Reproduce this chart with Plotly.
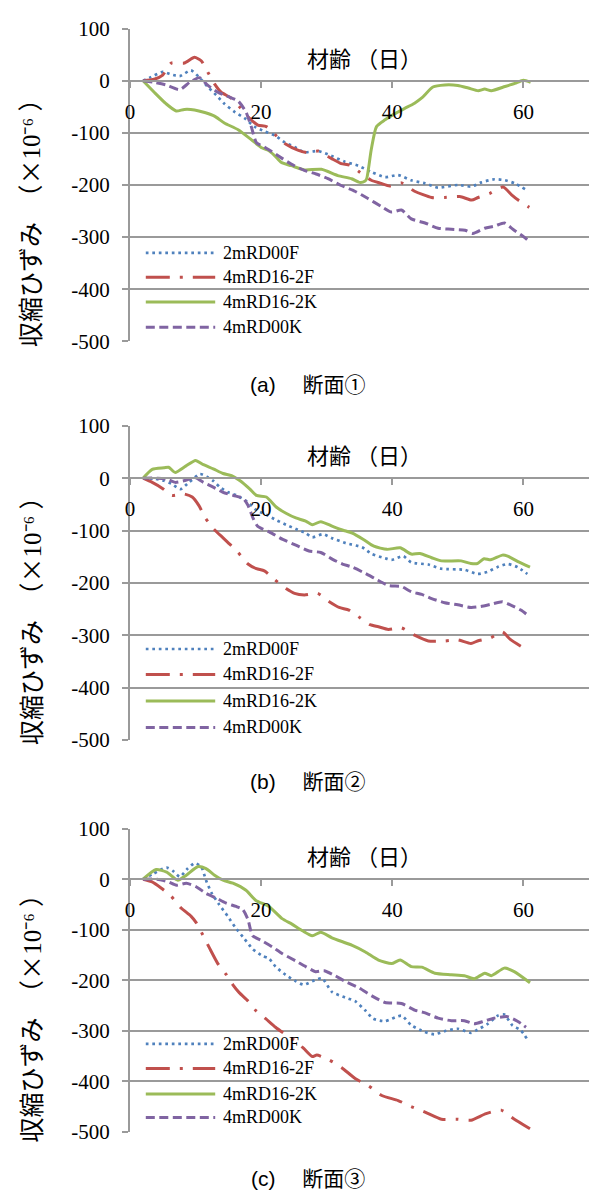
import plotly.graph_objects as go

# ---------------- data ----------------
series_names = ["2mRD00F", "4mRD16-2F", "4mRD16-2K", "4mRD00K"]
panel_titles = ["(a)　 断面①", "(b)　 断面②", "(c)　 断面③"]
x_tick_vals = [0, 20, 40, 60]
y_tick_vals = [100, 0, -100, -200, -300, -400, -500]
y_tick_text = ["100", "0", "-100", "-200", "-300", "-400", "-500"]
x_title = "材齢 （日）"
y_title = "収縮ひずみ　（<span style='font-family:Noto Sans CJK JP'>×</span>10⁻⁶ ）"

# panel (a)
a_2mRD00F_d = [2, 3.2, 5.0, 6.3, 7.6, 9.3, 10.6, 11.9, 13.2, 14.4, 16.0, 17.5, 19.0, 20.5, 22.1, 23.6, 25.1, 26.6, 28.7, 30.7, 32.7, 34.8, 36.8, 38.9, 40.9, 42.9, 45.0, 47.0, 50.0, 52.1, 53.6, 55.6, 57.2, 58.7, 60.5]
a_2mRD00F_v = [0, 7, 17, 12, 9, 20, 6, -12, -28, -44, -60, -72, -88, -97, -105, -118, -127, -137, -135, -144, -155, -163, -175, -185, -181, -191, -197, -205, -200, -203, -195, -189, -191, -197, -210]
a_4mRD16_2F_d = [2, 3.7, 5.0, 6.3, 8.3, 9.85, 10.9, 11.9, 12.9, 13.9, 15.4, 16.7, 18.0, 19.5, 20.8, 22.1, 23.8, 25.6, 27.1, 28.7, 30.7, 32.2, 33.5, 35.0, 36.8, 38.3, 39.6, 41.4, 43.4, 46.0, 48.0, 50.3, 52.1, 53.1, 54.9, 56.9, 58.2, 59.2, 60.9]
a_4mRD16_2F_v = [0, 3, 11, 34, 34, 45, 38, 16, -6, -22, -33, -50, -69, -85, -88, -103, -122, -133, -138, -135, -149, -159, -162, -175, -191, -197, -202, -196, -212, -224, -224, -222, -229, -224, -216, -204, -219, -229, -243]
a_4mRD16_2K_d = [2, 3.7, 5.5, 7.05, 8.3, 9.85, 11.4, 12.9, 14.4, 16.5, 18.5, 20.0, 21.0, 22.1, 23.1, 24.6, 26.6, 29.2, 31.7, 33.8, 35.0, 35.8, 36.1, 36.8, 37.6, 38.9, 40.4, 41.9, 43.4, 44.5, 46.2, 48.0, 50.0, 51.6, 53.1, 54.1, 55.1, 57.2, 58.7, 60.0, 61.1]
a_4mRD16_2K_v = [0, -22, -44, -58, -55, -56, -61, -68, -81, -94, -113, -128, -133, -144, -157, -163, -171, -170, -182, -188, -195, -193, -188, -132, -88, -75, -63, -53, -43, -33, -12, -8, -9, -14, -19, -16, -19, -11, -5, 1, -3]
a_4mRD00K_d = [2, 3.7, 5.5, 7.6, 9.1, 10.6, 11.9, 13.4, 14.9, 16.5, 17.7, 18.5, 19.3, 20.5, 22.6, 24.6, 26.6, 28.4, 30.2, 32.2, 34.3, 36.3, 38.3, 39.9, 41.4, 42.9, 45.0, 47.0, 49.0, 51.1, 52.3, 54.1, 55.6, 57.1, 58.4, 60.2, 61.0]
a_4mRD00K_v = [0, -3, -8, -17, -3, 6, -9, -22, -30, -39, -60, -88, -119, -127, -144, -160, -172, -179, -188, -201, -212, -226, -241, -252, -248, -265, -273, -283, -285, -287, -293, -283, -279, -273, -285, -301, -310]

# panel (b)
b_2mRD00F_d = [2, 3.7, 5.2, 6.4, 7.7, 9.0, 10.7, 11.7, 12.7, 13.7, 15.0, 16.3, 17.8, 19.3, 20.8, 22.3, 23.8, 25.3, 26.8, 27.8, 29.4, 30.9, 32.9, 35.4, 36.9, 38.9, 39.9, 41.7, 42.9, 45.5, 47.5, 51.0, 53.0, 54.5, 56.0, 57.6, 59.1, 60.6]
b_2mRD00F_v = [0, -1, -5, -11, -21, -8, 8, 3, -5, -17, -27, -33, -44, -61, -70, -80, -89, -97, -105, -113, -107, -115, -124, -132, -145, -153, -156, -149, -161, -165, -173, -175, -183, -179, -170, -164, -170, -183]
b_4mRD16_2F_d = [2, 3.4, 4.9, 6.4, 8.2, 9.5, 10.5, 11.5, 12.7, 14.2, 15.3, 16.5, 18.0, 19.3, 20.5, 22.1, 23.8, 25.1, 26.6, 28.6, 30.4, 31.9, 33.4, 34.9, 36.6, 37.9, 39.4, 41.4, 43.4, 45.5, 48.0, 50.0, 52.0, 53.0, 55.0, 56.8, 58.0, 59.6]
b_4mRD16_2F_v = [0, -8, -19, -33, -30, -36, -52, -76, -96, -114, -127, -142, -164, -173, -177, -194, -211, -220, -223, -220, -236, -247, -252, -265, -280, -284, -289, -286, -300, -311, -311, -309, -316, -311, -305, -294, -308, -321]
b_4mRD16_2K_d = [2, 3.4, 5.2, 5.9, 6.9, 8.5, 10.0, 11.2, 12.7, 14.2, 15.5, 16.8, 18.3, 19.3, 20.8, 22.3, 23.8, 25.3, 26.8, 27.8, 29.1, 30.9, 32.4, 33.9, 35.6, 37.2, 39.2, 41.2, 42.9, 44.2, 46.0, 47.5, 50.5, 52.0, 53.0, 54.0, 55.0, 56.8, 57.6, 59.1, 61.0]
b_4mRD16_2K_v = [0, 17, 20, 21, 11, 23, 34, 26, 18, 9, 5, -5, -21, -33, -36, -55, -67, -76, -82, -89, -83, -92, -99, -105, -117, -130, -136, -133, -145, -144, -152, -158, -158, -163, -163, -154, -156, -147, -149, -159, -170]
b_4mRD00K_d = [2, 4.2, 5.7, 6.9, 8.2, 10.0, 11.2, 12.7, 14.2, 15.8, 17.3, 18.0, 18.8, 19.5, 21.3, 23.3, 25.3, 27.3, 29.1, 30.9, 32.4, 33.9, 35.9, 37.4, 39.4, 41.4, 42.9, 44.5, 46.0, 48.0, 50.0, 52.0, 53.5, 55.0, 56.8, 58.0, 59.6, 61.0]
b_4mRD00K_v = [0, 0, -2, -8, -5, 1, -8, -17, -27, -33, -39, -52, -77, -92, -103, -117, -128, -139, -142, -155, -164, -170, -182, -192, -205, -207, -217, -222, -230, -238, -242, -247, -245, -241, -236, -242, -252, -265]

# panel (c)
c_2mRD00F_d = [2, 3.6, 5.6, 6.6, 7.6, 8.8, 9.9, 10.9, 11.6, 12.4, 13.6, 14.9, 16.1, 17.4, 18.7, 20.2, 21.2, 22.2, 23.7, 25.3, 26.5, 27.8, 29.3, 30.8, 32.8, 34.4, 35.9, 37.1, 38.9, 41.4, 42.9, 44.9, 46.4, 48.2, 50.0, 52.0, 53.0, 54.6, 56.1, 57.1, 58.3, 59.6, 60.5]
c_2mRD00F_v = [0, 11, 23, 16, 5, 21, 32, 24, -2, -26, -50, -73, -96, -117, -138, -152, -157, -173, -189, -202, -209, -202, -196, -223, -234, -242, -260, -276, -281, -270, -289, -302, -307, -300, -296, -304, -298, -286, -270, -268, -289, -299, -315]
c_4mRD16_2F_d = [2, 3.3, 4.8, 6.3, 7.8, 9.3, 10.1, 10.9, 12.2, 13.4, 14.7, 15.7, 16.7, 18.0, 19.2, 20.7, 22.2, 23.7, 25.0, 26.5, 27.8, 28.5, 30.3, 32.3, 34.4, 36.4, 38.4, 40.9, 42.9, 45.0, 47.5, 49.8, 52.0, 54.3, 56.6, 58.4, 61.0]
c_4mRD16_2F_v = [0, -5, -18, -34, -57, -73, -86, -105, -138, -167, -189, -209, -225, -241, -260, -276, -293, -307, -318, -335, -351, -348, -357, -373, -395, -409, -428, -438, -450, -461, -475, -475, -477, -464, -457, -473, -494]
c_4mRD16_2K_d = [2, 4.0, 5.6, 7.3, 8.6, 10.4, 11.6, 12.9, 14.2, 15.7, 17.7, 19.2, 21.2, 23.2, 24.7, 26.3, 27.8, 29.1, 30.8, 33.9, 35.9, 37.9, 39.9, 41.2, 42.9, 44.5, 46.5, 49.0, 51.0, 52.5, 54.1, 55.1, 57.1, 58.6, 61.0]
c_4mRD16_2K_v = [0, 19, 14, -2, 8, 25, 21, 8, -2, -8, -22, -42, -54, -78, -89, -102, -112, -105, -116, -131, -144, -160, -167, -160, -173, -174, -186, -189, -191, -197, -186, -191, -176, -183, -205]
c_4mRD00K_d = [2, 4.1, 5.8, 7.1, 8.6, 10.1, 11.6, 13.1, 14.6, 16.2, 17.2, 18.0, 18.7, 20.0, 21.7, 23.2, 25.3, 26.8, 28.3, 29.6, 31.3, 32.8, 34.9, 36.9, 38.9, 41.4, 43.4, 44.9, 47.0, 49.0, 51.0, 52.5, 54.0, 55.5, 57.6, 59.1, 60.4]
c_4mRD00K_v = [0, 0, -5, -12, -8, -15, -28, -37, -47, -54, -60, -80, -112, -121, -134, -147, -162, -173, -183, -181, -191, -202, -215, -231, -244, -246, -259, -264, -275, -280, -280, -286, -281, -275, -272, -281, -293]

panels = [
    [(a_2mRD00F_d, a_2mRD00F_v), (a_4mRD16_2F_d, a_4mRD16_2F_v), (a_4mRD16_2K_d, a_4mRD16_2K_v), (a_4mRD00K_d, a_4mRD00K_v)],
    [(b_2mRD00F_d, b_2mRD00F_v), (b_4mRD16_2F_d, b_4mRD16_2F_v), (b_4mRD16_2K_d, b_4mRD16_2K_v), (b_4mRD00K_d, b_4mRD00K_v)],
    [(c_2mRD00F_d, c_2mRD00F_v), (c_4mRD16_2F_d, c_4mRD16_2F_v), (c_4mRD16_2K_d, c_4mRD16_2K_v), (c_4mRD00K_d, c_4mRD00K_v)],
]

# ---------------- style ----------------
W, H = 589, 1201
styles = [
    dict(color="#4F81BD", width=2.7, dash="2.7px,3.8px"),
    dict(color="#C0504D", width=3, dash="24px,10px,3px,10px"),
    dict(color="#9BBB59", width=3, dash="solid"),
    dict(color="#8064A2", width=3, dash="9px,4.5px"),
]
GRAY = "#9a9a9a"
SERIF = "Liberation Serif, Noto Sans CJK JP"
CJK = "Noto Sans CJK JP"
SANS = "Liberation Sans, Noto Sans CJK JP"

panel_px = [(17, 336), (422.3, 742.7), (833.3, 1142.7)]
legend_px = [(245.7, 270.7, 296, 321.7), (650, 676, 703, 730), (1053, 1078, 1104, 1128)]
title_px = [380, 785, 1190]
ytitle_off = 32


def py(p):
    return 1 - p / H


fig = go.Figure()
layout = dict(
    width=W, height=H,
    margin=dict(l=0, r=0, t=0, b=0),
    paper_bgcolor="white", plot_bgcolor="white",
    showlegend=False,
)
annotations = []
shapes = []
xdom = [126 / W, 1.0]

for i, series in enumerate(panels):
    n = i + 1
    sfx = "" if n == 1 else str(n)
    top, bot = panel_px[i]
    ydom = [py(bot), py(top)]
    xpos = ydom[0] + (500 / 600) * (ydom[1] - ydom[0])
    for (d, v), st, name in zip(series, styles, series_names):
        fig.add_trace(go.Scatter(
            x=d, y=v, name=name, mode="lines",
            xaxis="x" + sfx, yaxis="y" + sfx,
            line=dict(color=st["color"], width=st["width"], dash=st["dash"],
                      shape="spline", smoothing=0.6),
            showlegend=False, hoverinfo="skip",
        ))
    layout["xaxis" + sfx] = dict(
        domain=xdom, range=[0, 70], anchor="free", position=xpos,
        tickvals=x_tick_vals, ticks="outside", ticklen=6, tickwidth=2, tickcolor=GRAY,
        showline=True, linecolor=GRAY, linewidth=2, showgrid=False, zeroline=False,
        tickfont=dict(family=SERIF, size=21, color="black"), ticklabelstandoff=6,
    )
    layout["yaxis" + sfx] = dict(
        domain=ydom, range=[-500, 100], anchor="x" + sfx,
        tickvals=y_tick_vals, ticktext=y_tick_text,
        ticks="outside", ticklen=6, tickwidth=2, tickcolor=GRAY,
        showline=True, linecolor=GRAY, linewidth=2,
        showgrid=True, gridcolor=GRAY, gridwidth=2, zeroline=False,
        tickfont=dict(family=SERIF, size=21, color="black"), ticklabelstandoff=8,
    )
    annotations.append(dict(
        text=x_title, xref="x" + sfx + " domain", yref="y" + sfx, x=0.512, y=0,
        yshift=24, xanchor="center", yanchor="middle", showarrow=False,
        font=dict(family=CJK, size=22, color="black"),
    ))
    annotations.append(dict(
        text=y_title, xref="paper", yref="paper", x=25 / W,
        y=py((top + bot) / 2 + ytitle_off), textangle=-90,
        xanchor="center", yanchor="middle", showarrow=False,
        font=dict(family=SERIF, size=25, color="black"),
    ))
    annotations.append(dict(
        text=panel_titles[i], xref="paper", yref="paper", x=305.5 / W, y=py(title_px[i]),
        xanchor="center", yanchor="middle", showarrow=False,
        font=dict(family=SANS, size=21, color="black"),
    ))
    for ly, st, name in zip(legend_px[i], styles, series_names):
        shapes.append(dict(
            type="line", xref="paper", yref="paper",
            x0=142 / W, x1=212 / W, y0=py(ly), y1=py(ly),
            line=dict(color=st["color"], width=st["width"], dash=st["dash"]),
        ))
        annotations.append(dict(
            text=name, xref="paper", yref="paper", x=218 / W, y=py(ly),
            xanchor="left", yanchor="middle", showarrow=False,
            font=dict(family=SERIF, size=18, color="black"),
        ))

layout["annotations"] = annotations
layout["shapes"] = shapes
fig.update_layout(**layout)
fig.write_html(
    "out.html",
    config={"displayModeBar": False, "staticPlot": True},
    post_script=(
        "document.documentElement.style.margin='0';"
        "document.body.style.margin='0';"
        "document.body.style.overflow='hidden';"
        "document.documentElement.style.overflow='hidden';"
    ),
)
